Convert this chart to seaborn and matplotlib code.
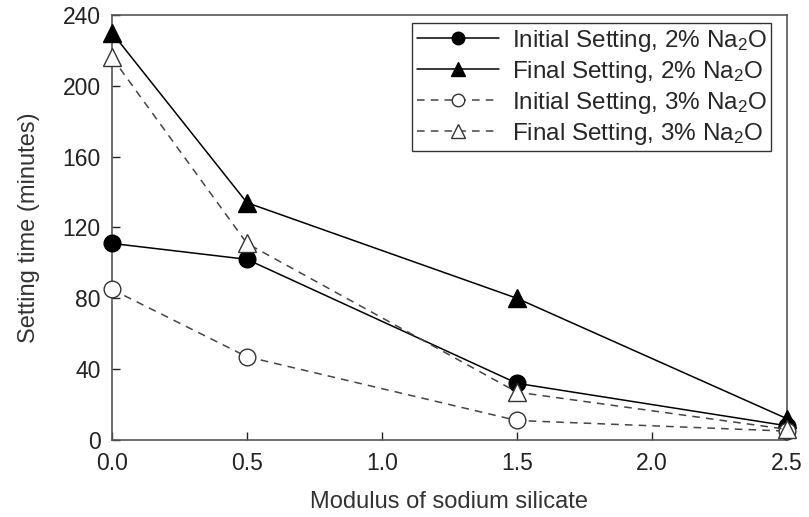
import matplotlib
matplotlib.use("Agg")
import matplotlib.pyplot as plt
import seaborn as sns
import pandas as pd

# Setting times (minutes) vs. modulus of sodium silicate
modulus = [0.0, 0.5, 1.5, 2.5]
initial_2 = [111, 102, 32, 8]
final_2 = [230, 134, 80, 12]
initial_3 = [85, 47, 11, 5]
final_3 = [216, 111, 27, 6]

labels = [
    "Initial Setting, 2% Na$_2$O",
    "Final Setting, 2% Na$_2$O",
    "Initial Setting, 3% Na$_2$O",
    "Final Setting, 3% Na$_2$O",
]
xticks = [0.0, 0.5, 1.0, 1.5, 2.0, 2.5]
yticks = [0, 40, 80, 120, 160, 200, 240]

sns.set_style("ticks")
plt.rcParams["font.family"] = ["Liberation Sans", "DejaVu Sans"]
plt.rcParams["mathtext.fontset"] = "custom"
plt.rcParams["mathtext.rm"] = "Liberation Sans"
plt.rcParams["mathtext.it"] = "Liberation Sans"

fig = plt.figure(figsize=(8.09, 5.17), dpi=100)
ax = fig.add_axes([0.1384, 0.149, 0.8344, 0.822])

series = [
    (initial_2, dict(color="black", ls="-", marker="o", mfc="black", mec="black", ms=12)),
    (final_2, dict(color="black", ls="-", marker="^", mfc="black", mec="black", ms=13)),
    (initial_3, dict(color="#444444", ls=(0, (5, 4)), marker="o", mfc="white", mec="#333333", ms=12)),
    (final_3, dict(color="#444444", ls=(0, (5, 4)), marker="^", mfc="white", mec="#333333", ms=13)),
]

for (vals, st), lab in zip(series, labels):
    df = pd.DataFrame({"x": modulus, "y": vals})
    sns.lineplot(data=df, x="x", y="y", ax=ax, label=lab, color=st["color"],
                 linestyle=st["ls"], marker=st["marker"], markerfacecolor=st["mfc"],
                 markeredgecolor=st["mec"], markersize=st["ms"], markeredgewidth=1.0,
                 linewidth=1.1, clip_on=False, zorder=3)

ax.set_xlim(0, 2.5)
ax.set_ylim(0, 240)
ax.set_xticks(xticks)
ax.set_xticklabels([f"{v:.1f}" for v in xticks])
ax.set_yticks(yticks)
ax.tick_params(direction="in", length=6, width=1, labelsize=16.5, colors="#222222")
ax.tick_params(axis="x", pad=9)
ax.tick_params(axis="y", pad=8)
for sp in ax.spines.values():
    sp.set_color("#555555")
    sp.set_linewidth(1.2)

ax.set_xlabel("Modulus of sodium silicate", fontsize=17, color="#333333", labelpad=11)
ax.set_ylabel("Setting time (minutes)", fontsize=17, color="#333333", labelpad=16)

handles, labs = ax.get_legend_handles_labels()
leg = ax.legend(handles, labs, loc="upper right", bbox_to_anchor=(0.977, 0.981),
                fontsize=17.5, frameon=True, fancybox=False, edgecolor="#333333",
                framealpha=1, borderpad=0.2, labelspacing=0.2, handlelength=3.4,
                handletextpad=0.5, borderaxespad=0.0, markerscale=0.75)
leg.get_frame().set_linewidth(1.0)

fig.savefig("out.png", dpi=100)
